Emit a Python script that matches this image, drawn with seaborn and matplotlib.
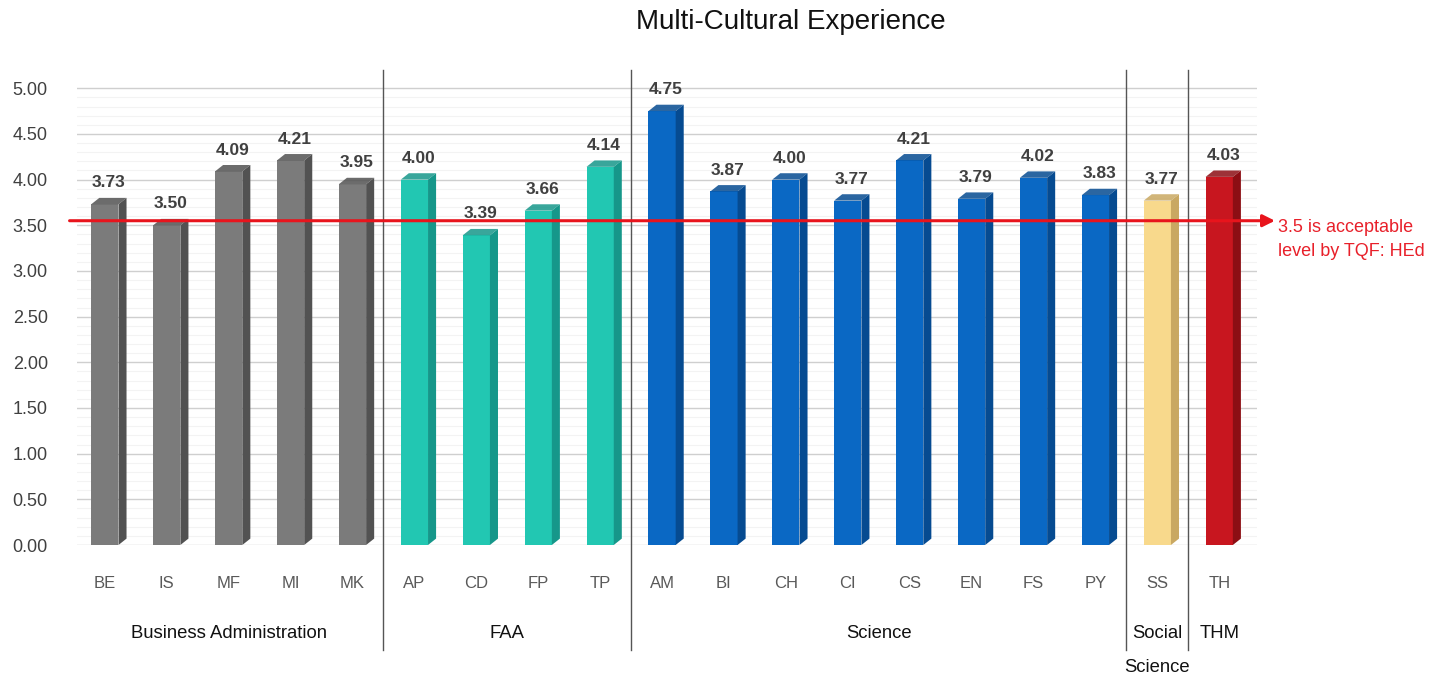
import matplotlib
matplotlib.use("Agg")
import matplotlib.pyplot as plt
from matplotlib.patches import Polygon
import seaborn as sns
import numpy as np

# ---- data ----
programs = ["BE", "IS", "MF", "MI", "MK", "AP", "CD", "FP", "TP", "AM", "BI", "CH",
            "CI", "CS", "EN", "FS", "PY", "SS", "TH"]
scores = [3.73, 3.50, 4.09, 4.21, 3.95, 4.00, 3.39, 3.66, 4.14, 4.75, 3.87, 4.00,
          3.77, 4.21, 3.79, 4.02, 3.83, 3.77, 4.03]
faculties = ["Business Administration", "FAA", "Science", "Social\nScience", "THM"]
faculty_sizes = [5, 4, 8, 1, 1]
faculty_front = ["#7b7b7b", "#22c7b2", "#0a68c4", "#f8d98c", "#c8161f"]
faculty_side = ["#525252", "#16978a", "#064b91", "#c9a862", "#8c0e14"]
acceptable_level = 3.55
acceptable_text = ["3.5 is acceptable", "level by TQF: HEd"]
title = "Multi-Cultural Experience"
yticks = [0.0, 0.5, 1.0, 1.5, 2.0, 2.5, 3.0, 3.5, 4.0, 4.5, 5.0]

plt.rcParams["font.family"] = ["Liberation Sans", "DejaVu Sans"]

front_cols, side_cols = [], []
for gi, n in enumerate(faculty_sizes):
    front_cols += [faculty_front[gi]] * n
    side_cols += [faculty_side[gi]] * n

fig = plt.figure(figsize=(14.5, 6.79), dpi=100)
ax = fig.add_axes([77 / 1450, 1 - 545 / 679, 1180 / 1450, 475 / 679])

sns.barplot(x=programs, y=scores, hue=programs, palette=front_cols, legend=False,
            width=0.44, ax=ax, saturation=1, zorder=3)

ax.set_xlim(-0.45, 18.61)
ax.set_ylim(0, 5.2)
ax.set_yticks(yticks)
ax.set_yticklabels([f"{v:.2f}" for v in yticks], fontsize=13, color="#404040")
ax.set_yticks(np.arange(0, 5.01, 0.1), minor=True)
ax.tick_params(axis="y", which="both", length=0, pad=21)
ax.tick_params(axis="x", length=0, pad=22, labelsize=12, labelcolor="#595959")
ax.grid(axis="y", which="major", color="#cfcfcf", lw=1, zorder=0)
ax.grid(axis="y", which="minor", color="#f3f3f3", lw=0.8, zorder=0)
ax.set_axisbelow(True)
for s in ax.spines.values():
    s.set_visible(False)
ax.set_xlabel("")
ax.set_ylabel("")

# 3D-like side and top faces derived from the bars
d, dy = 0.13, 0.07
for i, p in enumerate(ax.patches):
    x0, w, h = p.get_x(), p.get_width(), p.get_height()
    side = Polygon([(x0 + w, 0), (x0 + w + d, dy), (x0 + w + d, h + dy), (x0 + w, h)],
                   closed=True, fc=side_cols[i], ec="none", zorder=3)
    top = Polygon([(x0, h), (x0 + d, h + dy), (x0 + w + d, h + dy), (x0 + w, h)],
                  closed=True, fc=side_cols[i], ec="none", zorder=3, alpha=0.85)
    ax.add_patch(side)
    ax.add_patch(top)
    ax.annotate(f"{h:.2f}", (x0 + w / 2 + d / 2, h), xytext=(0, 10),
                textcoords="offset points", ha="center", va="bottom",
                fontsize=12.5, fontweight="bold", color="#404040", zorder=5)

# group separators and labels
start = 0
for gi, n in enumerate(faculty_sizes):
    end = start + n
    if gi > 0:
        ax.plot([start - 0.5, start - 0.5], [-1.15, 5.2], color="#555555", lw=1,
                clip_on=False, zorder=4)
    center = (start + end - 1) / 2
    ax.text(center, -0.88, faculties[gi], ha="center", va="top", fontsize=13.3,
            color="#111111", linespacing=2.3, clip_on=False)
    start = end

# acceptable level arrow
ax.annotate("", xy=(18.9, acceptable_level), xytext=(-0.57, acceptable_level),
            arrowprops=dict(arrowstyle="-|>", color="#e8141c", lw=2.2,
                            mutation_scale=18, shrinkA=0, shrinkB=0),
            annotation_clip=False, zorder=6)
ax.text(18.95, 3.48, acceptable_text[0], color="#e8202a", fontsize=13,
        ha="left", va="center", clip_on=False)
ax.text(18.95, 3.21, acceptable_text[1], color="#e8202a", fontsize=13,
        ha="left", va="center", clip_on=False)

fig.text(791 / 1450, 1 - 22 / 679, title, ha="center", va="center", fontsize=20,
         color="#111111")

fig.savefig("out.png", dpi=100, facecolor="white")
